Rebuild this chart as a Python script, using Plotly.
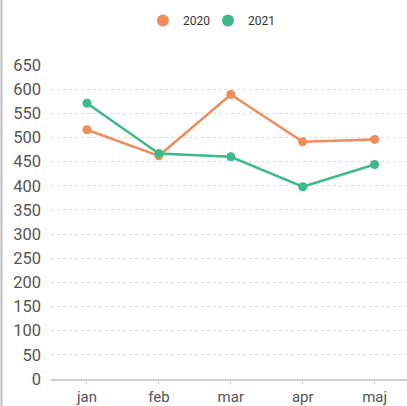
import plotly.graph_objects as go

months = ["jan", "feb", "mar", "apr", "maj"]
s2020 = [516, 462, 589, 491, 496]
s2021 = [571, 467, 460, 398, 444]
yticks = list(range(0, 651, 50))

c2020 = "#F08C5A"
c2021 = "#3DB98A"

fig = go.Figure()
for name, vals, col in [("2020", s2020, c2020), ("2021", s2021, c2021)]:
    fig.add_trace(go.Scatter(x=months, y=vals, mode="lines+markers", name=name,
                             line=dict(color=col, width=2.5),
                             marker=dict(color=col, size=9),
                             showlegend=False, legendgroup=name))
    fig.add_trace(go.Scatter(x=[None], y=[None], mode="markers", name=name,
                             marker=dict(color=col, size=11),
                             showlegend=True, legendgroup=name))

fig.update_layout(
    width=407, height=406,
    margin=dict(l=51, r=0, t=65, b=27, autoexpand=False),
    paper_bgcolor="white", plot_bgcolor="white",
    font=dict(family="Roboto, Arial, sans-serif", color="#555"),
    showlegend=True,
    legend=dict(orientation="h", x=(163 - 20 - 51) / 356, xanchor="left",
                y=0.985, yref="container", yanchor="top",
                font=dict(size=12, color="#333"),
                itemsizing="constant", tracegroupgap=0, itemwidth=30,
                entrywidth=20, entrywidthmode="pixels"),
    xaxis=dict(type="category", range=[-0.5, 4.45], showgrid=False,
               showline=True, linecolor="#d0d0d0", linewidth=1.5,
               ticks="outside", ticklen=3, tickcolor="#d0d0d0",
               tickfont=dict(size=15, color="#555")),
    yaxis=dict(range=[0, 650], tickvals=yticks, showgrid=True, gridcolor="#dedede",
               griddash="dot", zeroline=False, showline=False,
               tickfont=dict(size=16.5, color="#555"), ticklabelstandoff=9),
    shapes=[dict(type="line", xref="paper", yref="paper",
                 x0=-49.5/356, x1=-49.5/356, y0=-27/314, y1=1+65/314,
                 line=dict(color="#bbbbbb", width=2))],
)

fig.write_html("out.html", config={"displayModeBar": False},
               post_script="document.body.style.margin='0';document.body.style.overflow='hidden';")
